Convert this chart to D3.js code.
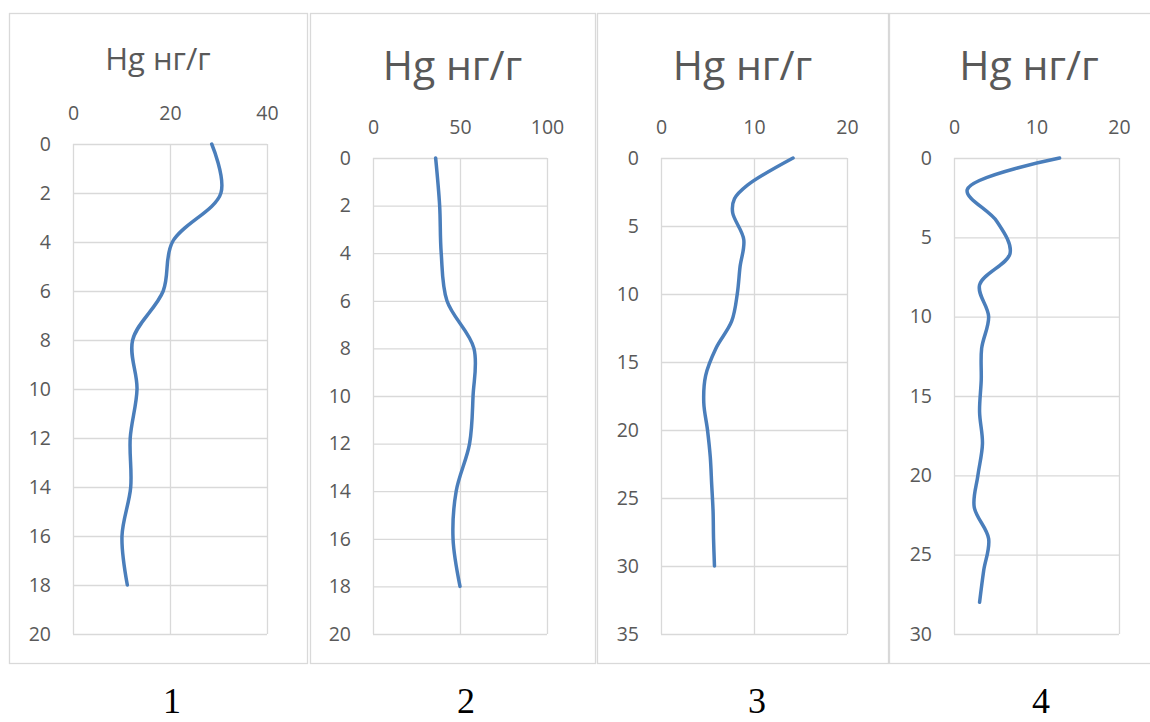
<!DOCTYPE html>
<html>
<head>
<meta charset="utf-8">
<title>Hg profiles</title>
<style>
  body { margin: 0; background: #fff; }
  svg text { font-family: "Open Sans", "Noto Sans", sans-serif; }
</style>
</head>
<body>
<svg id="chart" width="1150" height="722"></svg>
<script src="https://cdn.jsdelivr.net/npm/d3@7"></script>
<script>
// ---- data ----
const titleText = "Hg нг/г";
const panelLabels = ["1", "2", "3", "4"];

const depth1 = [0, 2, 4, 6, 8, 10, 12, 14, 16, 18];
const hg1 = [28.6, 30.5, 20.5, 18.6, 12.3, 13.2, 11.8, 11.9, 10.1, 11.2];
const xTicks1 = [0, 20, 40];
const yTicks1 = [0, 2, 4, 6, 8, 10, 12, 14, 16, 18, 20];

const depth2 = [0, 2, 4, 6, 8, 10, 12, 14, 16, 18];
const hg2 = [36, 38.3, 39.2, 42.5, 58, 57.5, 55.5, 47.8, 46, 50];
const xTicks2 = [0, 50, 100];
const yTicks2 = [0, 2, 4, 6, 8, 10, 12, 14, 16, 18, 20];

const depth3 = [0, 2, 3, 4, 6, 8, 10, 12, 14, 16, 18, 20, 22, 24, 26, 28, 30];
const hg3 = [14.2, 9.3, 7.9, 7.7, 8.9, 8.5, 8.2, 7.6, 5.9, 4.8, 4.6, 5.0, 5.3, 5.45, 5.6, 5.65, 5.75];
const xTicks3 = [0, 10, 20];
const yTicks3 = [0, 5, 10, 15, 20, 25, 30, 35];

const depth4 = [0, 2, 4, 6, 8, 10, 12, 14, 16, 18, 20, 22, 24, 26, 28];
const hg4 = [12.8, 1.6, 5.2, 6.8, 3.1, 4.2, 3.35, 3.3, 3.1, 3.45, 2.9, 2.45, 4.2, 3.6, 3.1];
const xTicks4 = [0, 10, 20];
const yTicks4 = [0, 5, 10, 15, 20, 25, 30];

// ---- layout ----
const panels = [
  { depth: depth1, hg: hg1, xTicks: xTicks1, yTicks: yTicks1,
    frame: [9, 13, 298, 650], plot: [73, 144, 194, 490], titleSize: 31, titleY: 70, labelX: 172 },
  { depth: depth2, hg: hg2, xTicks: xTicks2, yTicks: yTicks2,
    frame: [310, 13, 285, 650], plot: [373, 158, 174, 476], titleSize: 41, titleY: 80, labelX: 466 },
  { depth: depth3, hg: hg3, xTicks: xTicks3, yTicks: yTicks3,
    frame: [597, 13, 291, 650], plot: [661, 158, 186, 476], titleSize: 41, titleY: 80, labelX: 757 },
  { depth: depth4, hg: hg4, xTicks: xTicks4, yTicks: yTicks4,
    frame: [889, 13, 280, 650], plot: [954, 158, 165, 476], titleSize: 41, titleY: 80, labelX: 1041 }
];

const svg = d3.select("#chart");
const gridColor = "#d9d9d9";
const textColor = "#595959";

panels.forEach((p, i) => {
  const [fx, fy, fw, fh] = p.frame;
  const [px, py, pw, ph] = p.plot;

  svg.append("rect")
    .attr("x", fx + 0.5).attr("y", fy + 0.5)
    .attr("width", fw).attr("height", fh)
    .attr("fill", "#fff")
    .attr("stroke", gridColor)
    .attr("stroke-width", 1.3);

  svg.append("text")
    .attr("x", fx + fw / 2)
    .attr("y", p.titleY)
    .attr("text-anchor", "middle")
    .attr("fill", textColor)
    .style("font-size", p.titleSize + "px")
    .text(titleText);

  const x = d3.scaleLinear()
    .domain(d3.extent(p.xTicks))
    .range([px, px + pw]);
  const y = d3.scaleLinear()
    .domain(d3.extent(p.yTicks))
    .range([py, py + ph]);

  const xAxis = svg.append("g")
    .attr("transform", `translate(0,${py})`)
    .call(d3.axisTop(x).tickValues(p.xTicks).tickSize(-ph).tickPadding(24));

  const yAxis = svg.append("g")
    .attr("transform", `translate(${px},0)`)
    .call(d3.axisLeft(y).tickValues(p.yTicks).tickSize(-pw).tickPadding(22));

  [xAxis, yAxis].forEach(g => {
    g.select(".domain").remove();
    g.selectAll("line").attr("stroke", gridColor).attr("stroke-width", 1.3);
    g.selectAll("text")
      .attr("fill", textColor)
      .style("font-size", "19.5px")
      .style("font-family", "'Open Sans', 'Noto Sans', sans-serif");
  });

  const pts = p.depth.map((d, k) => [p.hg[k], d]);
  const line = d3.line()
    .x(d => x(d[0]))
    .y(d => y(d[1]))
    .curve(d3.curveCatmullRom);

  svg.append("path")
    .datum(pts)
    .attr("d", line)
    .attr("fill", "none")
    .attr("stroke", "#4a7ebb")
    .attr("stroke-width", 3.5)
    .attr("stroke-linecap", "round");

  svg.append("text")
    .attr("x", p.labelX)
    .attr("y", 713)
    .attr("text-anchor", "middle")
    .attr("fill", "#000")
    .style("font-family", "'Liberation Serif', 'DejaVu Serif', serif")
    .style("font-size", "36px")
    .text(panelLabels[i]);
});
</script>
</body>
</html>
